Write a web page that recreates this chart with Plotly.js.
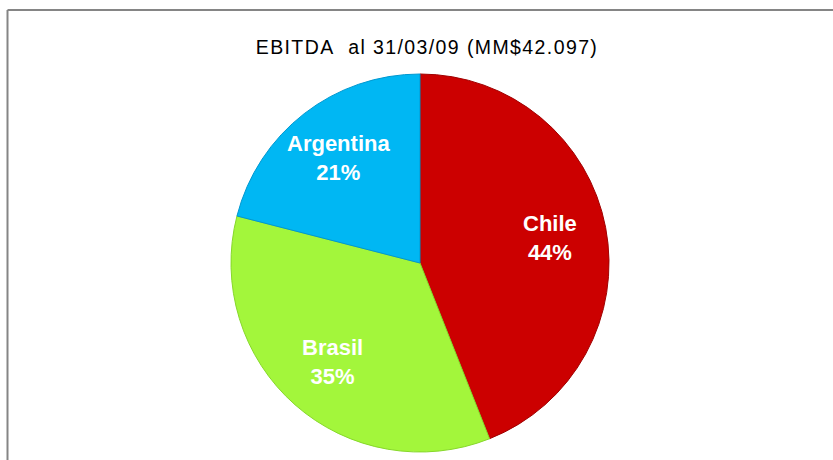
<!DOCTYPE html>
<html>
<head>
<meta charset="utf-8">
<script src="https://cdn.plot.ly/plotly-3.0.1.min.js"></script>
<style>
html,body{margin:0;padding:0;background:#ffffff;}
#chart{width:833px;height:460px;}
#chart .gtitle{letter-spacing:1.4px;}
</style>
</head>
<body>
<div id="chart"></div>
<script>
const categories = ["Chile", "Brasil", "Argentina"];
const shares = [44, 35, 21];
const sliceColors = ["#CC0000", "#A3F63B", "#00B7F3"];
const edgeColors = ["#A00000", "#86D82A", "#0098D0"];
const titleText = "EBITDA\u00A0 al 31/03/09 (MM$42.097)";

const W = 833, H = 460;
const dom = {x: [229 / W, 611 / W], y: [1 - 452 / H, 1 - 74 / H]};

const trace = {
  type: "pie",
  labels: categories,
  values: shares,
  sort: false,
  direction: "clockwise",
  rotation: 0,
  marker: {colors: sliceColors, line: {color: edgeColors, width: 1}},
  textinfo: "none",
  domain: dom,
  showlegend: false,
  hoverinfo: "label+percent"
};

// label positions derived from the data (mid-angle of each slice)
const total = shares.reduce((a, b) => a + b, 0);
const cxPx = (dom.x[0] + dom.x[1]) / 2 * W;
const cyPx = (1 - (dom.y[0] + dom.y[1]) / 2) * H;
const rPx = Math.min((dom.x[1] - dom.x[0]) * W, (dom.y[1] - dom.y[0]) * H) / 2;
const labelRadius = 0.7;
let cum = 0;
const annotations = shares.map((v, i) => {
  const mid = (cum + v / 2) / total * 2 * Math.PI;
  cum += v;
  const px = cxPx + Math.sin(mid) * rPx * labelRadius;
  const py = cyPx - Math.cos(mid) * rPx * labelRadius;
  return {
    xref: "paper", yref: "paper",
    x: px / W, y: 1 - py / H,
    xanchor: "center", yanchor: "middle",
    showarrow: false,
    text: categories[i] + "<br>" + Math.round(v / total * 100) + "%",
    font: {family: "Liberation Sans, Arial, sans-serif", size: 22, color: "#ffffff", weight: "bold"}
  };
});

const layout = {
  width: W, height: H,
  margin: {l: 0, r: 0, t: 0, b: 0},
  paper_bgcolor: "#ffffff",
  title: {
    text: titleText,
    x: 427 / W, xanchor: "center", xref: "paper",
    y: 1 - 47 / H, yanchor: "middle", yref: "container",
    font: {family: "Liberation Sans, Arial, sans-serif", size: 19.5, color: "#000000"}
  },
  annotations: annotations,
  shapes: [
    {type: "line", xref: "paper", yref: "paper", x0: 7.5 / W, x1: 7.5 / W, y0: 0, y1: 1 - 10 / H, line: {color: "#858585", width: 2}},
    {type: "line", xref: "paper", yref: "paper", x0: 7.5 / W, x1: 1, y0: 1 - 10 / H, y1: 1 - 10 / H, line: {color: "#858585", width: 2}}
  ]
};

Plotly.newPlot("chart", [trace], layout, {displayModeBar: false, staticPlot: true});
</script>
</body>
</html>
